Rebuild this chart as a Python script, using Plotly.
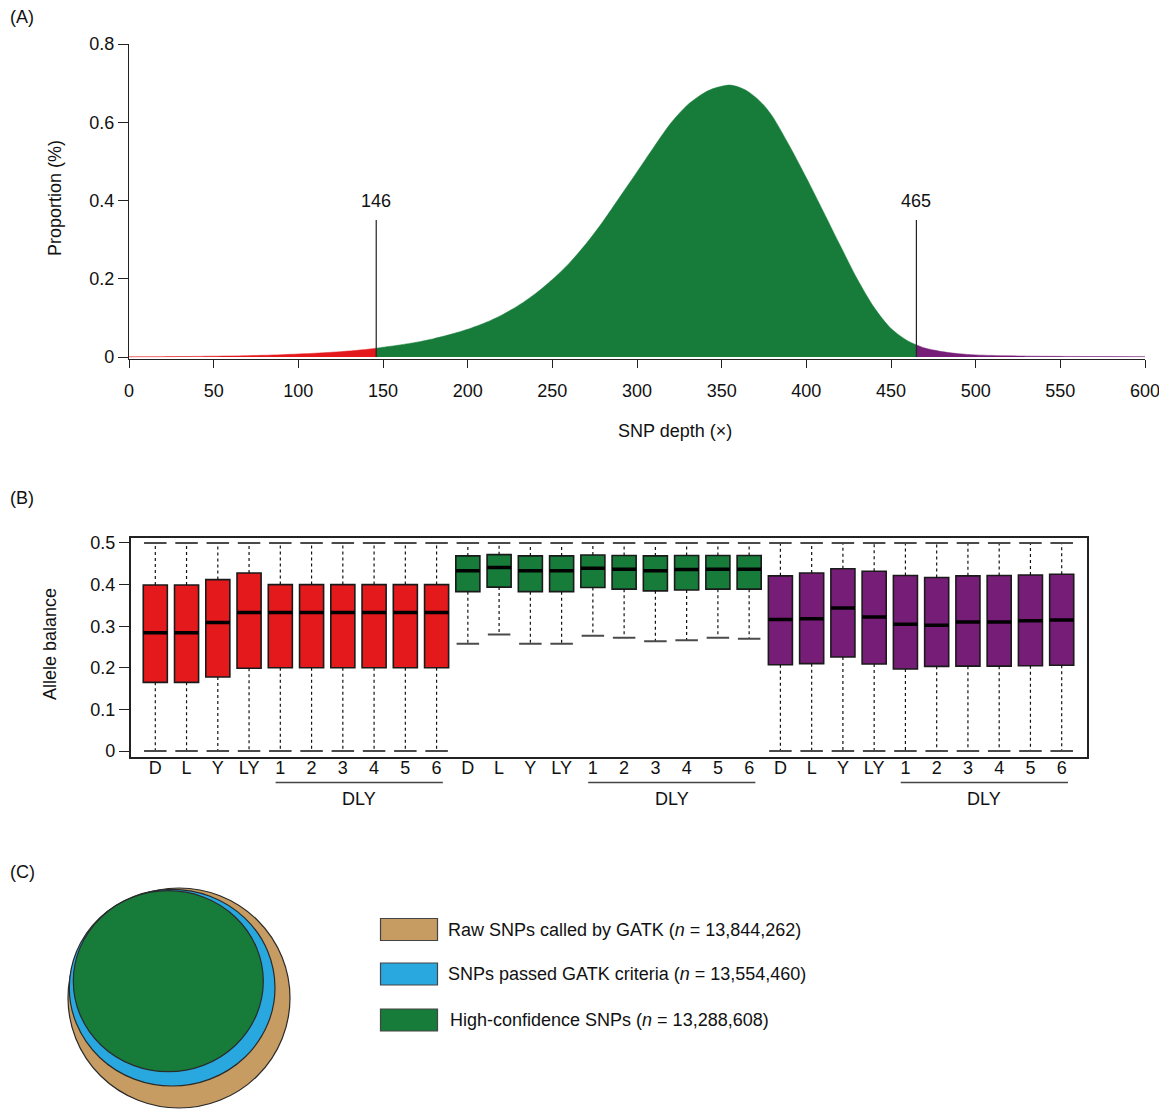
import plotly.graph_objects as go

# ---------------- data ----------------
# Panel A: SNP depth distribution
depth = [0, 10, 20, 30, 40, 50, 60, 70, 80, 90, 100, 110, 120, 130, 140, 146,
         150, 160, 170, 180, 190, 200, 210, 220, 230, 240, 250, 260, 270, 280,
         290, 300, 310, 320, 330, 340, 345, 350, 355, 360, 365, 370, 375, 380,
         390, 400, 410, 420, 430, 440, 450, 460, 465, 470, 480, 490, 500, 520,
         540, 560, 580, 600]
proportion = [0.0005, 0.0008, 0.0010, 0.0013, 0.0017, 0.0022, 0.0028, 0.0036, 0.0046,
              0.0060, 0.0078, 0.0098, 0.0123, 0.0155, 0.0195, 0.0225,
              0.025, 0.031, 0.038, 0.047, 0.058, 0.071, 0.087, 0.107, 0.132, 0.162,
              0.198, 0.240, 0.290, 0.347, 0.410, 0.473, 0.537, 0.598, 0.645, 0.676,
              0.686, 0.692, 0.695, 0.690, 0.680, 0.664, 0.643, 0.615,
              0.540, 0.458, 0.372, 0.285, 0.200, 0.127, 0.073, 0.041, 0.031, 0.023,
              0.0140, 0.0085, 0.0055, 0.0030, 0.0020, 0.0015, 0.0012, 0.0010]
depth_cutoffs = [146, 465]
depth_ticks = [0, 50, 100, 150, 200, 250, 300, 350, 400, 450, 500, 550, 600]
prop_ticks = [0, 0.2, 0.4, 0.6, 0.8]
prop_ticktext = ["0", "0.2", "0.4", "0.6", "0.8"]

# Panel B: allele balance boxes
box_labels = ["D", "L", "Y", "LY", "1", "2", "3", "4", "5", "6"]
low_q1 = [0.165, 0.165, 0.178, 0.199, 0.200, 0.200, 0.200, 0.200, 0.200, 0.200]
low_med = [0.284, 0.284, 0.309, 0.333, 0.333, 0.333, 0.333, 0.333, 0.333, 0.333]
low_q3 = [0.399, 0.399, 0.412, 0.428, 0.400, 0.400, 0.400, 0.400, 0.400, 0.400]
low_lo = [0, 0, 0, 0, 0, 0, 0, 0, 0, 0]
low_hi = [0.5, 0.5, 0.5, 0.5, 0.5, 0.5, 0.5, 0.5, 0.5, 0.5]

mid_q1 = [0.383, 0.394, 0.383, 0.383, 0.393, 0.389, 0.385, 0.387, 0.389, 0.389]
mid_med = [0.433, 0.441, 0.433, 0.433, 0.439, 0.437, 0.433, 0.436, 0.437, 0.437]
mid_q3 = [0.469, 0.472, 0.469, 0.469, 0.471, 0.470, 0.469, 0.470, 0.470, 0.470]
mid_lo = [0.258, 0.280, 0.258, 0.258, 0.277, 0.272, 0.264, 0.266, 0.272, 0.270]
mid_hi = [0.5, 0.5, 0.5, 0.5, 0.5, 0.5, 0.5, 0.5, 0.5, 0.5]

high_q1 = [0.2075, 0.210, 0.226, 0.209, 0.197, 0.2035, 0.204, 0.204, 0.205, 0.206]
high_med = [0.316, 0.318, 0.344, 0.322, 0.3045, 0.302, 0.310, 0.310, 0.313, 0.315]
high_q3 = [0.421, 0.428, 0.438, 0.432, 0.422, 0.417, 0.421, 0.422, 0.423, 0.425]
high_lo = [0, 0, 0, 0, 0, 0, 0, 0, 0, 0]
high_hi = [0.5, 0.5, 0.5, 0.5, 0.5, 0.5, 0.5, 0.5, 0.5, 0.5]
ab_ticks = [0, 0.1, 0.2, 0.3, 0.4, 0.5]
ab_ticktext = ["0", "0.1", "0.2", "0.3", "0.4", "0.5"]

# Panel C: SNP sets
snp_sets = ["Raw SNPs called by GATK", "SNPs passed GATK criteria", "High-confidence SNPs"]
snp_counts = ["13,844,262", "13,554,460", "13,288,608"]

# ---------------- style ----------------
W, H = 1167, 1109
OFF = 8  # page body margin
FW, FH = W - OFF, H - OFF
FONT = "Liberation Sans, Arial, sans-serif"
RED = "#E3191C"
GREEN = "#177C3A"
PURPLE = "#761E77"
TAN = "#C69C62"
BLUE = "#29A8E0"


def px(x):
    return (x - OFF) / FW


def py(y):
    return 1 - (y - OFF) / FH


fig = go.Figure()

# ---------------- Panel A ----------------
i1 = depth.index(depth_cutoffs[0])
i2 = depth.index(depth_cutoffs[1])
segments = [(0, i1 + 1, RED), (i1, i2 + 1, GREEN), (i2, len(depth), PURPLE)]
for a, b, col in segments:
    fig.add_trace(go.Scatter(
        x=depth[a:b], y=proportion[a:b], mode="lines",
        line=dict(color=col, width=0.5, shape="spline", smoothing=0.8),
        fill="tozeroy", fillcolor=col, xaxis="x", yaxis="y",
        showlegend=False, hoverinfo="skip"))

shapes = []
annotations = []
for c in depth_cutoffs:
    shapes.append(dict(type="line", xref="x", yref="y", x0=c, x1=c, y0=0, y1=0.35,
                       line=dict(color="#222", width=1.2)))
    annotations.append(dict(xref="x", yref="y", x=c, y=0.40, text=str(c), showarrow=False,
                            font=dict(size=18, color="#111", family=FONT)))

# ---------------- Panel B ----------------
groups = [
    (low_q1, low_med, low_q3, low_lo, low_hi, RED),
    (mid_q1, mid_med, mid_q3, mid_lo, mid_hi, GREEN),
    (high_q1, high_med, high_q3, high_lo, high_hi, PURPLE),
]
all_pos = []
all_text = []
half = 0.385
for g, (q1, med, q3, lo, hi, col) in enumerate(groups):
    pos = [g * len(box_labels) + i for i in range(len(box_labels))]
    all_pos += pos
    all_text += box_labels
    wx, wy = [], []
    cx, cy = [], []
    mx, my = [], []
    for p, a, m, b, l, h in zip(pos, q1, med, q3, lo, hi):
        wx += [p, p, None, p, p, None]
        wy += [b, h, None, a, l, None]
        cx += [p - 0.36, p + 0.36, None, p - 0.36, p + 0.36, None]
        cy += [h, h, None, l, l, None]
        mx += [p - half, p + half, None]
        my += [m, m, None]
    fig.add_trace(go.Scatter(x=wx, y=wy, mode="lines", xaxis="x2", yaxis="y2",
                             line=dict(color="#111", width=1.2, dash="dot"),
                             showlegend=False, hoverinfo="skip"))
    fig.add_trace(go.Scatter(x=cx, y=cy, mode="lines", xaxis="x2", yaxis="y2",
                             line=dict(color="#4a4a4a", width=2),
                             showlegend=False, hoverinfo="skip"))
    fig.add_trace(go.Box(x=pos, q1=q1, median=med, q3=q3, lowerfence=q1, upperfence=q3,
                         width=0.77, fillcolor=col, line=dict(color="#1a1a1a", width=1.6),
                         whiskerwidth=0, boxpoints=False, xaxis="x2", yaxis="y2",
                         showlegend=False, hoverinfo="skip"))
    fig.add_trace(go.Scatter(x=mx, y=my, mode="lines", xaxis="x2", yaxis="y2",
                             line=dict(color="#000", width=3.5),
                             showlegend=False, hoverinfo="skip"))
    x0 = pos[4] - 0.15
    x1 = pos[9] + 0.2
    shapes.append(dict(type="line", xref="x2", yref="paper", x0=x0, x1=x1,
                       y0=py(782.5), y1=py(782.5), line=dict(color="#444", width=1.3)))
    annotations.append(dict(xref="x2", yref="paper", x=(x0 + x1) / 2, y=py(798.5),
                            text="DLY", showarrow=False, yanchor="middle",
                            font=dict(size=18, color="#111", family=FONT)))

# ---------------- Panel C ----------------
circles = [  # (left, top, right, bottom) in px, colour
    (68, 888, 290, 1108, TAN),
    (69.3, 889.3, 275, 1086, BLUE),
    (73.3, 890.7, 263.3, 1071.7, GREEN),
]
for l, t, r, b, col in circles:
    shapes.append(dict(type="circle", xref="paper", yref="paper",
                       x0=px(l), x1=px(r), y0=py(b), y1=py(t),
                       fillcolor=col, line=dict(color="#2a2a2a", width=1.2)))

legend_cols = [TAN, BLUE, GREEN]
legend_y = [929.5, 974, 1020]
legend_tx = [446, 446, 448]
for name, cnt, col, yc, tx in zip(snp_sets, snp_counts, legend_cols, legend_y, legend_tx):
    shapes.append(dict(type="rect", xref="paper", yref="paper",
                       x0=px(380.5), x1=px(437.5), y0=py(yc + 11), y1=py(yc - 11),
                       fillcolor=col, line=dict(color="#444", width=1.2)))
    annotations.append(dict(xref="paper", yref="paper", x=px(tx), y=py(yc),
                            xanchor="left", yanchor="middle", showarrow=False,
                            text=f"{name} (<i>n</i> = {cnt})",
                            font=dict(size=18, color="#111", family=FONT)))

for lab, yc in [("(A)", 17), ("(B)", 498), ("(C)", 871.5)]:
    annotations.append(dict(xref="paper", yref="paper", x=px(8), y=py(yc), text=lab,
                            xanchor="left", yanchor="middle", showarrow=False,
                            font=dict(size=18, color="#111", family=FONT)))
annotations.append(dict(xref="paper", yref="paper", x=px(675), y=py(431),
                        text="SNP depth (×)", showarrow=False, yanchor="middle",
                        font=dict(size=18, color="#111", family=FONT)))
annotations.append(dict(xref="paper", yref="paper", x=px(55), y=py(198),
                        text="Proportion (%)", showarrow=False, textangle=-90,
                        xanchor="center", yanchor="middle",
                        font=dict(size=18, color="#111", family=FONT)))
annotations.append(dict(xref="paper", yref="paper", x=px(50), y=py(644),
                        text="Allele balance", showarrow=False, textangle=-90,
                        xanchor="center", yanchor="middle",
                        font=dict(size=18, color="#111", family=FONT)))

axis_font = dict(size=18, color="#111", family=FONT)
fig.update_layout(
    width=FW, height=FH, margin=dict(l=0, r=0, t=0, b=0, autoexpand=False),
    paper_bgcolor="white", plot_bgcolor="white",
    font=dict(family=FONT, size=18, color="#111"),
    xaxis=dict(domain=[px(129), px(1145)], range=[0, 600], tickvals=depth_ticks,
               showline=True, linecolor="#222", linewidth=1.2, ticks="outside",
               ticklen=8, tickwidth=1.2, tickcolor="#222", showgrid=False,
               zeroline=False, tickfont=axis_font, anchor="y", fixedrange=True,
               ticklabelstandoff=7),
    yaxis=dict(domain=[py(359), py(44)], range=[-0.005, 0.8], tickvals=prop_ticks,
               ticktext=prop_ticktext, showline=True, linecolor="#222", linewidth=1.2,
               ticks="outside", ticklen=10, tickwidth=1.2, tickcolor="#222",
               showgrid=False, zeroline=False, tickfont=axis_font, anchor="x",
               fixedrange=True),
    xaxis2=dict(domain=[px(130.7), px(1086.7)], range=[-0.787, 29.8], tickvals=all_pos,
                ticktext=all_text, showline=True, mirror=True, linecolor="#222",
                linewidth=1.6, ticks="", ticklabelstandoff=-6,
                showgrid=False, zeroline=False, tickfont=axis_font, anchor="y2",
                fixedrange=True),
    yaxis2=dict(domain=[py(757), py(538)], range=[-0.0144, 0.512], tickvals=ab_ticks,
                ticktext=ab_ticktext, showline=True, mirror=True, linecolor="#222",
                linewidth=1.6, ticks="outside", ticklen=10, tickwidth=1.2,
                tickcolor="#222", showgrid=False, zeroline=False, tickfont=axis_font,
                anchor="x2", fixedrange=True),
    shapes=shapes, annotations=annotations, showlegend=False,
)

fig.write_html("out.html")
